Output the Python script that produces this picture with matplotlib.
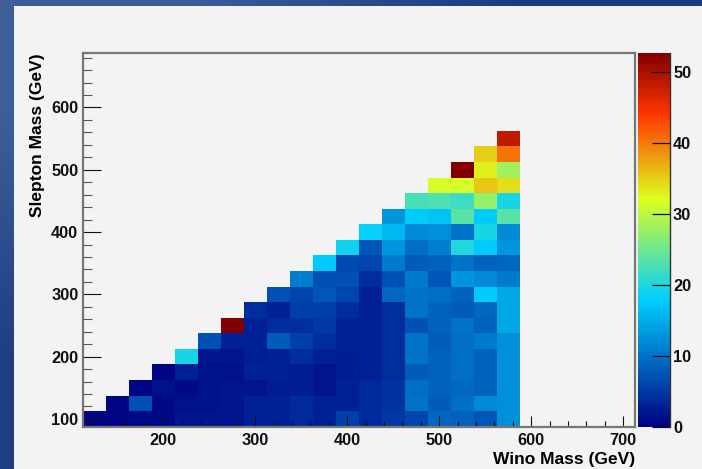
import numpy as np
import matplotlib
matplotlib.use("Agg")
import matplotlib.pyplot as plt
from matplotlib.colors import LinearSegmentedColormap
from matplotlib.patches import Rectangle
from matplotlib.lines import Line2D

plt.rcParams['font.family'] = ['Liberation Sans', 'DejaVu Sans']
plt.rcParams['font.weight'] = 'bold'

#%% data (bin centres in GeV, counts)
wino_mass = [125, 150, 175, 200, 225, 250, 275, 300, 325, 350,
             375, 400, 425, 450, 475, 500, 525, 550, 575]
slepton_mass = [100, 125, 150, 175, 200, 225, 250, 275, 300, 325,
                350, 375, 400, 425, 450, 475, 500, 525, 550]

# one list per slepton row, starting at the diagonal bin (wino index == row index)
counts_by_row = [
    [0.5, 0.5, 1, 1, 2, 2, 2, 3, 3, 3.5, 3, 5.5, 3.5, 5, 6, 9, 8.5, 7.5, 12.5],
    [0.5, 7, 1, 1.5, 1.5, 2, 3, 3, 3.5, 3, 3, 3.5, 4.5, 10, 8, 9.5, 12, 12.5],
    [0.5, 1.5, 1, 1.5, 2, 2, 2.5, 2.5, 2, 3, 3.5, 4.5, 9.5, 8.5, 9, 8.5, 12.5],
    [0.5, 3, 1.5, 1.5, 3, 3, 2.5, 2, 2.5, 3, 4, 8, 8.5, 9.5, 8.5, 12.5],
    [19.5, 2, 2, 2.5, 3, 4, 3, 2.5, 3, 4, 10, 8.5, 9.5, 8.5, 12.5],
    [7, 3, 3, 8, 5.5, 4, 3, 3, 4, 10, 8, 9.5, 10.5, 12.5],
    [52.7, 3, 4, 4, 5, 3, 3, 4, 7, 8.5, 10, 8.5, 14.5],
    [4, 3, 5.5, 5.5, 4, 3, 4, 10, 8.5, 8, 9, 14.5],
    [7, 6, 7.5, 6, 3, 9, 10, 9.5, 8.5, 17.5, 14.5],
    [11, 7, 7, 4, 7, 10.5, 7.5, 13, 12, 10.5],
    [17.5, 6.5, 6, 10.5, 8, 8.5, 10, 8.5, 9],
    [19, 7.5, 13, 9.5, 11, 20, 17.5, 13],
    [18.5, 16, 12, 12.5, 10, 19.5, 12],
    [13, 17.5, 17, 23.5, 17.5, 23.5],
    [22.5, 23, 22, 27.5, 19.5],
    [31.5, 31.5, 35.5, 34],
    [52.7, 33, 28],
    [35, 40.5],
    [48.5],
]

x_ticks = [200, 300, 400, 500, 600, 700]
y_ticks = [100, 200, 300, 400, 500, 600]
z_ticks = [0, 10, 20, 30, 40, 50]
z_max = 52.7

#%% grid
bin_w = 25
z = np.full((len(slepton_mass), len(wino_mass)), np.nan)
for j, row in enumerate(counts_by_row):
    z[j, j:j + len(row)] = row
x_edges = np.append(np.array(wino_mass) - bin_w / 2, wino_mass[-1] + bin_w / 2)
y_edges = np.append(np.array(slepton_mass) - bin_w / 2, slepton_mass[-1] + bin_w / 2)

# ROOT style gradient palette
stops = [0.00, 0.34, 0.61, 0.84, 1.00]
reds = [0.00, 0.00, 0.87, 1.00, 0.51]
greens = [0.00, 0.81, 1.00, 0.20, 0.00]
blues = [0.51, 1.00, 0.12, 0.00, 0.00]
cmap = LinearSegmentedColormap.from_list(
    'root', list(zip(stops, zip(reds, greens, blues))), N=256)

#%% figure
W, H = 702, 469
fig = plt.figure(figsize=(W / 100, H / 100), dpi=100)

# blue slide background
bg = fig.add_axes([0, 0, 1, 1], zorder=-10)
grad = np.array([[[0.24, 0.37, 0.59], [0.11, 0.23, 0.51]],
                 [[0.12, 0.25, 0.51], [0.10, 0.21, 0.47]]])
bg.imshow(grad, extent=[0, 1, 0, 1], aspect='auto', interpolation='bilinear')
bg.axis('off')
fig.add_artist(Rectangle((14 / W, 0), 1, 1 - 6 / H, transform=fig.transFigure,
                         facecolor='#f3f3f3', edgecolor='none', zorder=-5))

ax = fig.add_axes([82.8 / W, 42.3 / H, 551.9 / W, 373.7 / H])
ax.set_facecolor('none')
mesh = ax.pcolormesh(x_edges, y_edges, np.ma.masked_invalid(z), cmap=cmap,
                     vmin=0, vmax=z_max, shading='flat')
ax.set_xlim(112.5, 712.5)
ax.set_ylim(87.5, 687.5)

ax.set_xticks(x_ticks)
ax.set_yticks(y_ticks)
ax.set_xticks(np.arange(120, 712, 20), minor=True)
ax.set_yticks(np.arange(100, 687, 20), minor=True)
ax.tick_params(axis='x', which='major', direction='in', length=7.9, width=0.8,
               pad=4.2, labelsize=11.8, colors='#111111')
ax.tick_params(axis='x', which='minor', direction='in', length=4.1, width=0.8,
               colors='#111111')
ax.tick_params(axis='y', which='major', direction='in', length=12.7, width=0.8,
               pad=3.2, labelsize=11.8, colors='#111111')
ax.tick_params(axis='y', which='minor', direction='in', length=6.3, width=0.8,
               colors='#555555')
for s in ax.spines.values():
    s.set_color('#777777')
    s.set_linewidth(1.6)

ax.set_xlabel('Wino Mass (GeV)', loc='right', fontsize=12.5, fontweight='bold')
ax.xaxis.set_label_coords(1.0, -0.068)
ax.set_ylabel('Slepton Mass (GeV)', loc='top', fontsize=12.5, fontweight='bold')
ax.yaxis.set_label_coords(-0.069, 1.0)

# palette axis
cax = fig.add_axes([637.7 / W, 42 / H, 32.3 / W, 374.3 / H])
cb = fig.colorbar(mesh, cax=cax)
cb.outline.set_visible(False)
cb.set_ticks(z_ticks)
cax.tick_params(direction='in', length=12.7, width=0.9, pad=2.2,
                labelsize=11.8, colors='#111111')
cax.add_line(Line2D([1, 1], [0, 1], transform=cax.transAxes, color='#333333',
                    lw=1.0, clip_on=False))

fig.savefig('out.png', dpi=100)
